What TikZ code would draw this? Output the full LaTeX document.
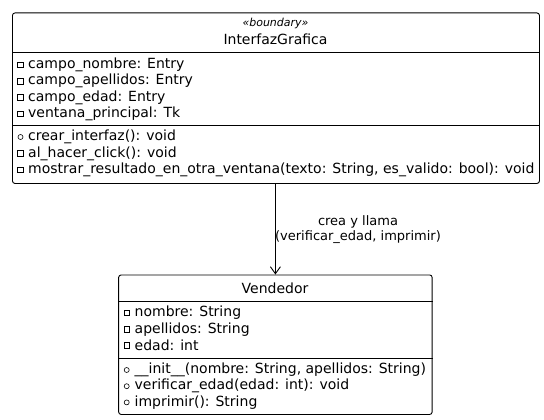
\documentclass[tikz,border=0pt]{standalone}
\usepackage{fontspec}
\setmainfont{DejaVu Sans}
\usetikzlibrary{arrows.meta}
\begin{document}
\begin{tikzpicture}[x=1pt,y=-1pt,
  classbox/.style={draw=black, line width=0.9pt, rounded corners=2.5pt, inner sep=0pt, anchor=north west},
  sepline/.style={draw=black, line width=0.9pt},
  member/.style={anchor=west, inner sep=0pt, font=\fontsize{14}{16}\selectfont},
  title/.style={anchor=center, inner sep=0pt, font=\fontsize{14}{16}\selectfont},
  stereo/.style={anchor=center, inner sep=0pt, font=\fontsize{11}{13}\selectfont\itshape},
  priv/.style={draw=black, line width=0.6pt, minimum size=5.5pt, inner sep=0pt, rectangle},
  pub/.style={draw=black, line width=0.6pt, minimum size=5pt, inner sep=0pt, circle},
  conn/.style={draw=black, line width=0.9pt, -{Straight Barb[length=7pt,width=10pt,line width=0.9pt]}},
  lbl/.style={inner sep=0pt, font=\fontsize{13}{15}\selectfont, align=center}
]
\useasboundingbox (0,0) rectangle (544,420);

% ---------- InterfazGrafica ----------
\node (gui) [classbox, minimum width=527pt, minimum height=170.5pt] at (12,12.5) {};
\node (guist) [stereo] at (275.5,23) {«boundary»};
\node (guiname) [title] at (275.5,39) {InterfazGrafica};
\draw[sepline] (gui.west |- 0,52) -- (gui.east |- 0,52);
\draw[sepline] (gui.west |- 0,125) -- (gui.east |- 0,125);

\node (ga1i) [priv] at (20.5,65) {};
\node (ga1) [member] at (28,65) {campo\_nombre: Entry};
\node (ga2i) [priv] at (20.5,81.3) {};
\node (ga2) [member] at (28,81.3) {campo\_apellidos: Entry};
\node (ga3i) [priv] at (20.5,97.5) {};
\node (ga3) [member] at (28,97.5) {campo\_edad: Entry};
\node (ga4i) [priv] at (20.5,113.8) {};
\node (ga4) [member] at (28,113.8) {ventana\_principal: Tk};

\node (gm1i) [pub] at (20.5,137) {};
\node (gm1) [member] at (28,137) {crear\_interfaz(): void};
\node (gm2i) [priv] at (20.5,153.5) {};
\node (gm2) [member] at (28,153.5) {al\_hacer\_click(): void};
\node (gm3i) [priv] at (20.5,170) {};
\node (gm3) [member] at (28,170) {mostrar\_resultado\_en\_otra\_ventana(texto: String, es\_valido: bool): void};

% ---------- Vendedor ----------
\node (vend) [classbox, minimum width=313.5pt, minimum height=139.5pt] at (118.2,274.5) {};
\node (vendname) [title] at (275,288) {Vendedor};
\draw[sepline] (vend.west |- 0,301.5) -- (vend.east |- 0,301.5);
\draw[sepline] (vend.west |- 0,358.3) -- (vend.east |- 0,358.3);

\node (va1i) [priv] at (126.7,313) {};
\node (va1) [member] at (134.5,313) {nombre: String};
\node (va2i) [priv] at (126.7,329.3) {};
\node (va2) [member] at (134.5,329.3) {apellidos: String};
\node (va3i) [priv] at (126.7,345.5) {};
\node (va3) [member] at (134.5,345.5) {edad: int};

\node (vm1i) [pub] at (126.7,370) {};
\node (vm1) [member] at (134.5,370) {\_\_init\_\_(nombre: String, apellidos: String)};
\node (vm2i) [pub] at (126.7,386.2) {};
\node (vm2) [member] at (134.5,386.2) {verificar\_edad(edad: int): void};
\node (vm3i) [pub] at (126.7,402.4) {};
\node (vm3) [member] at (134.5,402.4) {imprimir(): String};

% ---------- connector ----------
\draw[conn] (gui.south -| vend.north) -- (vend.north);
\node (lbl) [lbl] at (358,229.5) {crea y llama\\(verificar\_edad, imprimir)};
\end{tikzpicture}
\end{document}
